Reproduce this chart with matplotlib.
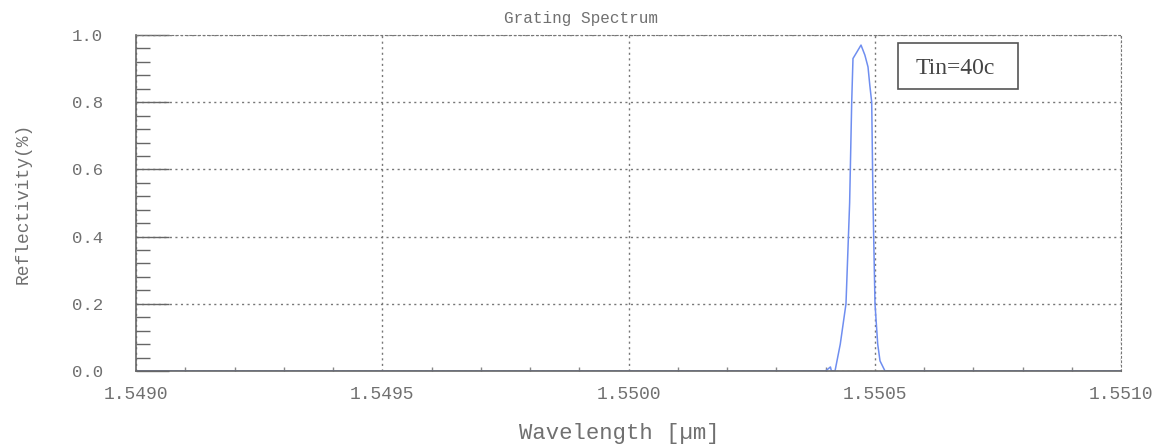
import matplotlib
matplotlib.use("Agg")
import matplotlib.pyplot as plt
from matplotlib.patches import Rectangle
from matplotlib.ticker import MultipleLocator, FormatStrFormatter

wavelength = [1.5490, 1.5504, 1.55041, 1.550412, 1.5504193, 1.550430, 1.5504416, 1.550449,
              1.5504532, 1.5504558, 1.5504640, 1.5504721, 1.5504800, 1.5504863,
              1.5504900, 1.5504938, 1.5504965, 1.5505005, 1.5505060, 1.5505107,
              1.5505208, 1.5510]
reflectivity = [0.0, 0.0, 0.012, 0.0, 0.0, 0.08, 0.2, 0.5,
                0.8, 0.93, 0.95, 0.97, 0.94, 0.905,
                0.85, 0.8, 0.5, 0.2, 0.08, 0.03,
                0.0, 0.0]

title = "Grating Spectrum"
xlabel = "Wavelength [\u00b5m]"
ylabel = "Reflectivity(%)"
annotation = "Tin=40c"

W, H = 1161, 447
fig = plt.figure(figsize=(W / 100, H / 100), dpi=100)
L, R, T, B = 136, 1121, 35, 371
ax = fig.add_axes([L / W, 1 - B / H, (R - L) / W, (B - T) / H])

ax.plot(wavelength, reflectivity, color="#6f8ef0", lw=1.1)
ax.set_xlim(1.5490, 1.5510)
ax.set_ylim(0.0, 1.0)

mono = "Liberation Mono"
tc = "#707070"
ax.xaxis.set_major_locator(MultipleLocator(0.0005))
ax.xaxis.set_minor_locator(MultipleLocator(0.0001))
ax.yaxis.set_major_locator(MultipleLocator(0.2))
ax.yaxis.set_minor_locator(MultipleLocator(0.04))
ax.xaxis.set_major_formatter(FormatStrFormatter("%.4f"))
ax.yaxis.set_major_formatter(FormatStrFormatter("%.1f"))

ax.tick_params(axis="y", which="major", direction="in", length=24, width=1, color="#666666",
               labelsize=12.5, labelcolor=tc, pad=24)
ax.tick_params(axis="y", which="minor", direction="in", length=10, width=1, color="#666666")
ax.tick_params(axis="x", which="major", direction="in", length=0, labelsize=13, labelcolor=tc, pad=11)
ax.tick_params(axis="x", which="minor", direction="in", length=3, width=1, color="#888888")
for lab in ax.get_xticklabels() + ax.get_yticklabels():
    lab.set_fontfamily(mono)

ax.grid(True, which="major", linestyle=(0, (1.5, 2.5)), color="#777777", lw=1)
for s in ["top", "right"]:
    ax.spines[s].set_linestyle((0, (1.5, 2.5)))
    ax.spines[s].set_color("#777777")
for s in ["left", "bottom"]:
    ax.spines[s].set_color("#666666")
    ax.spines[s].set_linewidth(1.2)

ax.set_xlabel(xlabel, fontfamily=mono, fontsize=16, color=tc)
ax.set_ylabel(ylabel, fontfamily=mono, fontsize=13, color=tc)
ax.xaxis.set_label_coords((619 - L) / (R - L), -(433 - B) / (B - T))
ax.xaxis.label.set_va("center")
ax.yaxis.set_label_coords((23 - L) / (R - L), 0.5)
ax.yaxis.label.set_va("center")
fig.text(581 / W, 1 - 18 / H, title, fontfamily=mono, fontsize=11.5, color=tc,
         ha="center", va="center")

fig.patches.append(Rectangle((898 / W, 1 - 89 / H), 120 / W, 46 / H, transform=fig.transFigure,
                             fill=False, edgecolor="#555555", lw=1.2))
fig.text(955 / W, 1 - 66 / H, annotation, fontfamily="Liberation Serif", fontsize=17,
         color="#444444", ha="center", va="center_baseline")

fig.savefig("out.png", dpi=100)
